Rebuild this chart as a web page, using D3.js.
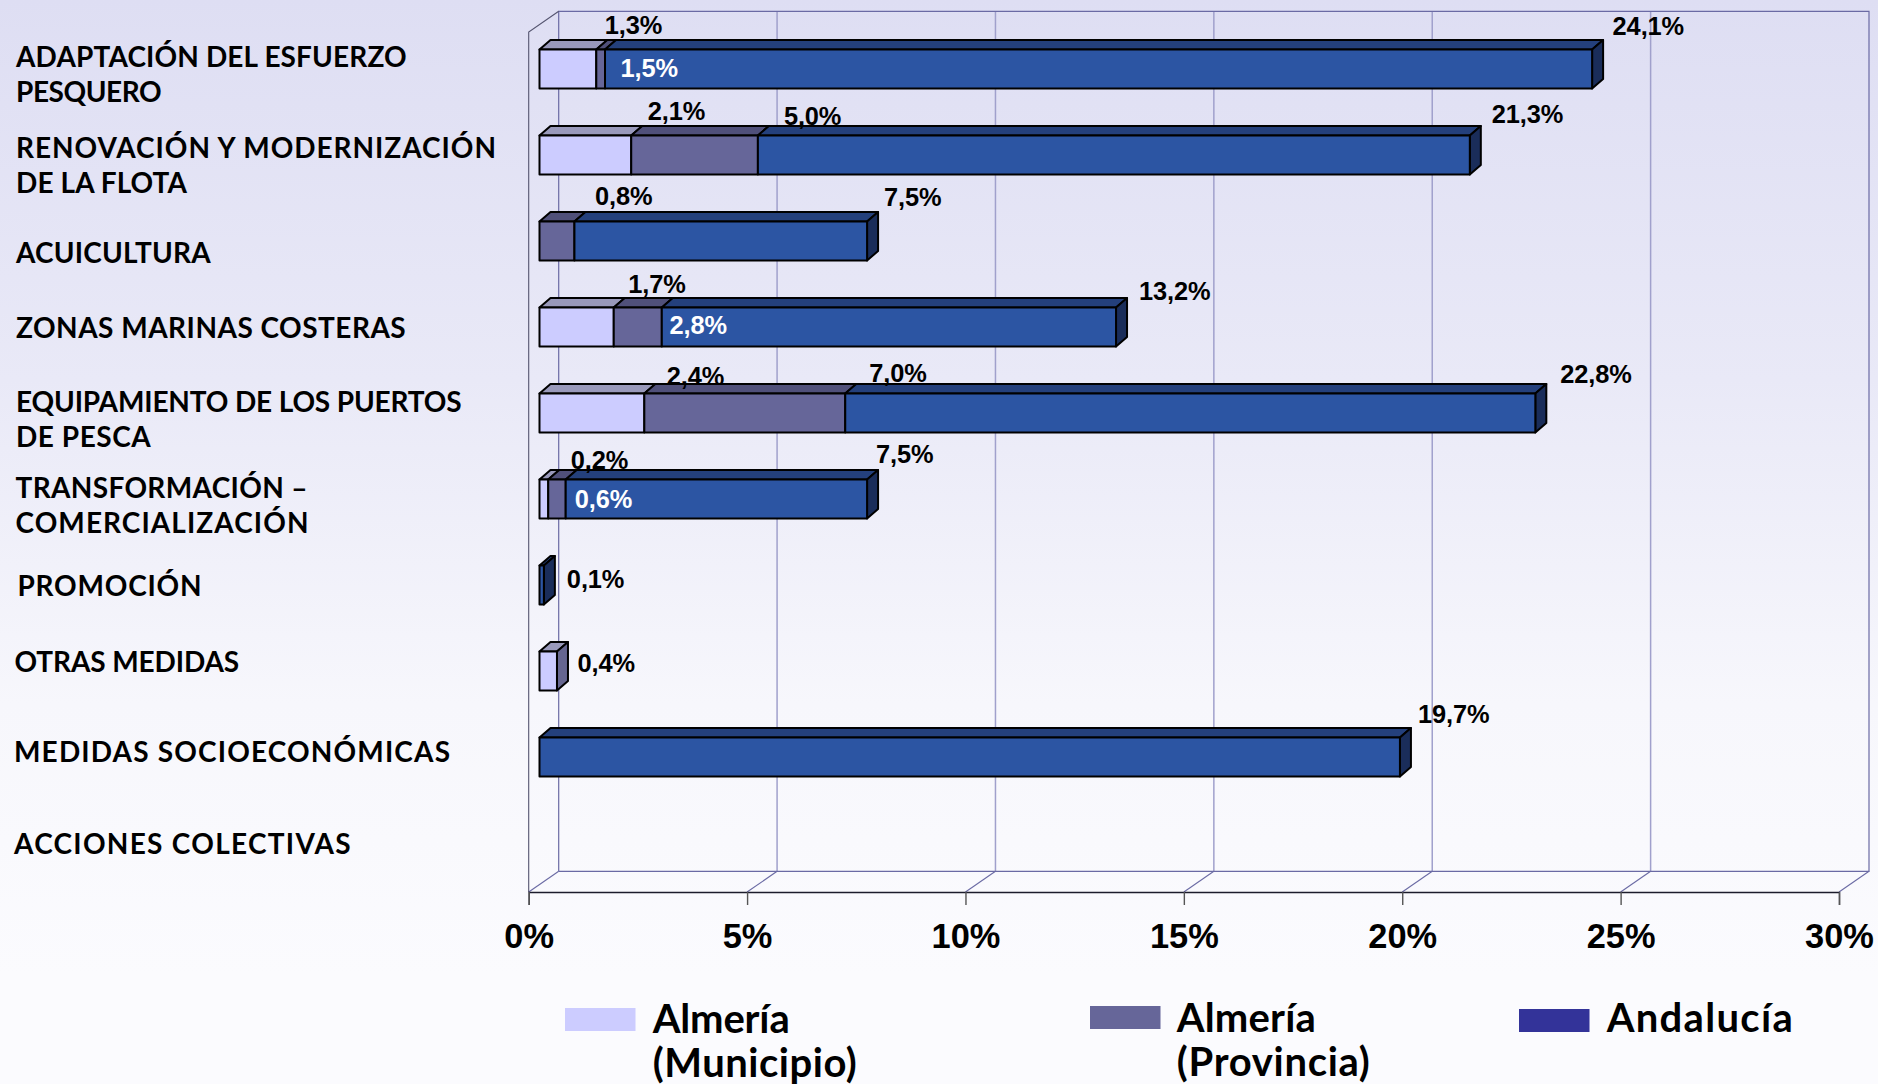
<!DOCTYPE html>
<html lang="es"><head><meta charset="utf-8">
<style>html,body{margin:0;padding:0;background:#fbfbfe;overflow:hidden}svg{display:block}</style>
<script src="https://cdn.jsdelivr.net/npm/d3@7/dist/d3.min.js"></script></head>
<body><svg id="c" width="1878" height="1084"></svg>
<script>
// ---- data ----
const categories = [
  ["ADAPTACIÓN DEL ESFUERZO","PESQUERO"],
  ["RENOVACIÓN Y MODERNIZACIÓN","DE LA FLOTA"],
  ["ACUICULTURA"],
  ["ZONAS MARINAS COSTERAS"],
  ["EQUIPAMIENTO DE LOS PUERTOS","DE PESCA"],
  ["TRANSFORMACIÓN –","COMERCIALIZACIÓN"],
  ["PROMOCIÓN"],
  ["OTRAS MEDIDAS"],
  ["MEDIDAS SOCIOECONÓMICAS"],
  ["ACCIONES COLECTIVAS"]
];
const municipio = [1.3, 2.1, null, 1.7, 2.4, 0.2, null, 0.4, null, null];
const provincia = [1.5, 5.0, 0.8, 2.8, 7.0, 0.6, null, null, null, null];
const andalucia = [24.1, 21.3, 7.5, 13.2, 22.8, 7.5, 0.1, null, 19.7, null];
const xTicks = [0, 5, 10, 15, 20, 25, 30];
const legendNames = [["Almería","(Municipio)"],["Almería","(Provincia)"],["Andalucía"]];

// ---- layout (label nudges and text widths, not data) ----
const catX = [16,16,16,16,16,15.5,17.5,14.5,14,14];
const catBase = [66.7,157.7,262.7,338.3,411.7,498.3,596,671.7,761.7,854];
const catWidths = [[390.7,145.7],[480,171],[194.7],[389.7],[445.7,134.7],[292,293],[184],[224.7],[436],[336.7]];
const catSpacing = 35;
const muniNudge = [[8.5,-16.5],[16.5,-16.5],null,[14.5,-15],[22.5,-9.5],[22.5,-11.5],null,[20.5,19.7],null,null];
const provNudge = [[15.5,27],[26,-11.5],[20.5,-17],[7.7,26],[24,-12],[9,28],null,null,null,null];
const andaNudge = [[20.5,-15],[22,-13.2],[17,-16],[23,-8],[25,-11],[9,-17],[23,21.7],null,[18,-15.5],null];
const provWhite = [true,false,false,true,false,true,false,false,false,false];
const legendSwatch = [[565,1008],[1090,1006],[1519,1009]];
const legendText = [[652.7,1032.7],[1176.8,1031.7],[1606.7,1031.7]];
const legendWidths = [[137,204],[139,193],[186]];

const colors = {
  muni:{face:"#ccccff",top:"#9999bb",side:"#666690"},
  prov:{face:"#666699",top:"#50507a",side:"#3f3f66"},
  anda:{face:"#2c55a3",top:"#24407c",side:"#1a2d5a"}
};
const legendColors = ["#ccccff","#666699","#333399"];

const svg = d3.select("#c");
const defs = svg.append("defs");
const g = defs.append("linearGradient").attr("id","bg").attr("x1",0).attr("y1",0).attr("x2",0).attr("y2",1);
[[0,"#dedef3"],[.35,"#e9e9f7"],[.65,"#f7f7fc"],[.9,"#fbfbfe"],[1,"#fbfbfe"]].forEach(s=>g.append("stop").attr("offset",s[0]).attr("stop-color",s[1]));
svg.append("rect").attr("width",1878).attr("height",1084).attr("fill","url(#bg)");

const x0 = 528.7, x1 = 1839, yTop = 32, yBot = 892, wallDx = 30, wallDy = -20.7;
const x = d3.scaleLinear().domain([0,30]).range([x0,x1]);
const y = d3.scaleBand().domain(d3.range(categories.length)).range([yTop,yBot]);
const barInset = 10.8, barTop = 17.5, barH = 39, depthX = 11, depthY = -9.5;
const bx = v => x(v) + barInset;

// walls
const wall = svg.append("g").attr("fill","none");
const wallCol = "#6a6aa4", gridCol = "#a0a0cc";
xTicks.slice(1,-1).forEach(t=>{
  wall.append("line").attr("x1",x(t)+wallDx).attr("x2",x(t)+wallDx).attr("y1",yTop+wallDy).attr("y2",yBot+wallDy).attr("stroke",gridCol).attr("stroke-width",1.5);
});
xTicks.forEach(t=>{
  wall.append("line").attr("x1",x(t)).attr("x2",x(t)+wallDx).attr("y1",yBot).attr("y2",yBot+wallDy).attr("stroke",wallCol).attr("stroke-width",1.1);
});
wall.append("path").attr("stroke",wallCol).attr("stroke-width",1.2)
  .attr("d",`M${x0+wallDx},${yBot+wallDy}V${yTop+wallDy}H${x1+wallDx}V${yBot+wallDy}H${x0+wallDx}`);
wall.append("path").attr("stroke","#555570").attr("stroke-width",1.1)
  .attr("d",`M${x0},${yBot}V${yTop}L${x0+wallDx},${yTop+wallDy}`);

// axis
const axis = svg.append("g").attr("transform",`translate(0,${yBot})`)
  .call(d3.axisBottom(x).tickValues(xTicks).tickFormat(d=>d+"%").tickSize(13).tickPadding(19));
axis.select(".domain").attr("stroke","#1c1c2c").attr("stroke-width",1.4);
axis.selectAll(".tick line").attr("stroke","#555").attr("stroke-width",1.4);
axis.selectAll("text").attr("font-family","'Liberation Sans',sans-serif").attr("font-weight",700).attr("font-size",34.4).attr("fill","#000");

// bars
const barsG = svg.append("g").attr("stroke","#000").attr("stroke-width",2).attr("stroke-linejoin","round");
function seg(i, from, to, col, withSide){
  const t = y(i)+barTop, b = t+barH, l = bx(from), r = bx(to);
  barsG.append("path").attr("fill",col.top).attr("d",`M${l},${t}L${l+depthX},${t+depthY}H${r+depthX}L${r},${t}Z`);
  if(withSide) barsG.append("path").attr("fill",col.side).attr("d",`M${r},${t}L${r+depthX},${t+depthY}V${b+depthY}L${r},${b}Z`);
  barsG.append("rect").attr("x",l).attr("y",t).attr("width",r-l).attr("height",barH).attr("fill",col.face);
}
categories.forEach((c,i)=>{
  const m = municipio[i], p = provincia[i], a = andalucia[i];
  const pieces = [];
  let prev = 0;
  if(m!=null){pieces.push([prev,m,colors.muni]);prev=m;}
  if(p!=null){pieces.push([prev,p,colors.prov]);prev=p;}
  if(a!=null){pieces.push([prev,a,colors.anda]);prev=a;}
  pieces.forEach((q,k)=>seg(i,q[0],q[1],q[2],k===pieces.length-1));
});

// value labels
const fmt = v => v.toFixed(1).replace(".",",")+"%";
const labels = svg.append("g").attr("font-family","'Liberation Sans',sans-serif").attr("font-weight",700).attr("font-size",25.4).attr("letter-spacing",-0.1);
function valueLabels(vals,nudge,white){
  vals.forEach((v,i)=>{
    if(v==null) return;
    labels.append("text").attr("x",bx(v)+nudge[i][0]).attr("y",y(i)+18+nudge[i][1])
      .attr("fill",white&&white[i]?"#fff":"#000").text(fmt(v));
  });
}
valueLabels(municipio,muniNudge);
valueLabels(provincia,provNudge,provWhite);
valueLabels(andalucia,andaNudge);

// category labels
const cats = svg.append("g").attr("font-family","Lato,sans-serif").attr("font-weight",700).attr("font-size",28).attr("fill","#000");
categories.forEach((lines,i)=>lines.forEach((ln,k)=>{
  cats.append("text").attr("x",catX[i]).attr("y",catBase[i]+k*catSpacing)
    .attr("textLength",catWidths[i][k]).attr("lengthAdjust","spacing").text(ln);
}));

// legend
legendNames.forEach((lines,i)=>{
  svg.append("rect").attr("x",legendSwatch[i][0]).attr("y",legendSwatch[i][1]).attr("width",70.5).attr("height",23).attr("fill",legendColors[i]);
  lines.forEach((ln,k)=>{
    svg.append("text").attr("x",legendText[i][0]).attr("y",legendText[i][1]+k*44.5)
      .attr("font-family","Lato,sans-serif").attr("font-weight",700).attr("font-size",40).attr("fill","#000")
      .attr("textLength",legendWidths[i][k]).attr("lengthAdjust","spacing").text(ln);
  });
});
</script></body></html>
